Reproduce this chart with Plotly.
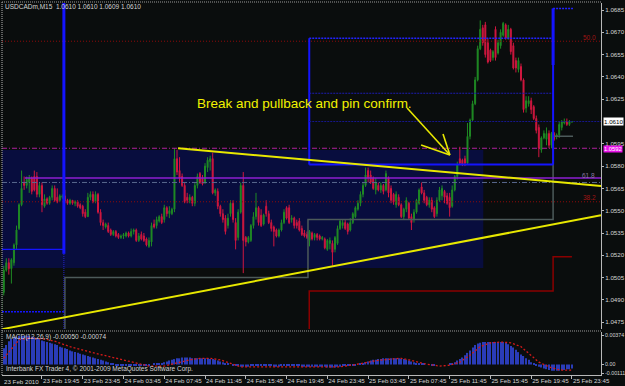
import plotly.graph_objects as go

# ---------------- data (USDCADm, M15; bar 0 = 23 Feb 2010 15:45) ----------------
opens = [1.0483,1.0495,1.0510,1.0515,1.0511,1.0515,1.0527,1.0538,1.0554,1.0569,
         1.0567,1.0569,1.0572,1.0573,1.0573,1.0561,1.0567,1.0553,1.0558,1.0555,
         1.0559,1.0565,1.0559,1.0557,1.0559,1.0560,1.0557,1.0555,1.0557,1.0555,
         1.0556,1.0554,1.0553,1.0549,1.0546,1.0559,1.0561,1.0556,1.0561,1.0549,
         1.0542,1.0539,1.0540,1.0537,1.0534,1.0536,1.0534,1.0532,1.0533,1.0533,
         1.0535,1.0533,1.0536,1.0537,1.0530,1.0534,1.0533,1.0531,1.0526,1.0529,
         1.0541,1.0540,1.0543,1.0546,1.0544,1.0552,1.0548,1.0548,1.0551,1.0585,
         1.0577,1.0573,1.0567,1.0559,1.0557,1.0559,1.0555,1.0567,1.0575,1.0572,
         1.0569,1.0579,1.0583,1.0585,1.0562,1.0563,1.0553,1.0548,1.0545,1.0540,
         1.0548,1.0555,1.0542,1.0532,1.0549,1.0567,1.0532,1.0529,1.0530,1.0540,
         1.0546,1.0552,1.0547,1.0541,1.0553,1.0548,1.0542,1.0539,1.0537,1.0533,
         1.0537,1.0542,1.0552,1.0552,1.0544,1.0545,1.0542,1.0543,1.0538,1.0535,
         1.0534,1.0530,1.0535,1.0532,1.0534,1.0533,1.0531,1.0531,1.0524,1.0528,
         1.0528,1.0524,1.0528,1.0538,1.0540,1.0542,1.0541,1.0537,1.0542,1.0546,
         1.0551,1.0555,1.0561,1.0567,1.0577,1.0574,1.0572,1.0564,1.0567,1.0564,
         1.0567,1.0564,1.0572,1.0565,1.0561,1.0554,1.0559,1.0554,1.0546,1.0551,
         1.0555,1.0546,1.0544,1.0549,1.0555,1.0566,1.0562,1.0559,1.0554,1.0557,
         1.0552,1.0548,1.0557,1.0560,1.0563,1.0560,1.0559,1.0553,1.0564,1.0573,
         1.0585,1.0584,1.0585,1.0582,1.0600,1.0611,1.0622,1.0638,1.0659,1.0673,
         1.0675,1.0663,1.0658,1.0653,1.0672,1.0656,1.0661,1.0668,1.0675,1.0666,
         1.0672,1.0661,1.0651,1.0645,1.0647,1.0638,1.0619,1.0622,1.0624,1.0620,
         1.0612,1.0606,1.0591,1.0599,1.0598,1.0602,1.0594,1.0602,1.0600,1.0601,
         1.0606,1.0609,1.0610,1.0608,1.0610]
highs = [1.0498,1.0513,1.0518,1.0518,1.0518,1.0528,1.0540,1.0555,1.0577,1.0573,
         1.0573,1.0574,1.0573,1.0577,1.0576,1.0569,1.0569,1.0561,1.0559,1.0560,
         1.0567,1.0567,1.0565,1.0561,1.0561,1.0564,1.0558,1.0558,1.0557,1.0557,
         1.0557,1.0555,1.0554,1.0551,1.0562,1.0563,1.0563,1.0563,1.0562,1.0551,
         1.0544,1.0542,1.0542,1.0538,1.0537,1.0537,1.0535,1.0534,1.0535,1.0536,
         1.0536,1.0538,1.0538,1.0538,1.0535,1.0536,1.0535,1.0532,1.0532,1.0542,
         1.0544,1.0546,1.0547,1.0548,1.0554,1.0553,1.0553,1.0552,1.0592,1.0591,
         1.0586,1.0575,1.0569,1.0562,1.0561,1.0560,1.0569,1.0575,1.0576,1.0574,
         1.0582,1.0586,1.0587,1.0589,1.0565,1.0565,1.0554,1.0551,1.0547,1.0548,
         1.0557,1.0557,1.0545,1.0551,1.0569,1.0576,1.0533,1.0533,1.0541,1.0549,
         1.0562,1.0553,1.0551,1.0548,1.0557,1.0550,1.0544,1.0540,1.0538,1.0538,
         1.0544,1.0551,1.0553,1.0554,1.0547,1.0546,1.0544,1.0545,1.0540,1.0537,
         1.0536,1.0537,1.0536,1.0535,1.0535,1.0534,1.0533,1.0532,1.0531,1.0532,
         1.0530,1.0533,1.0540,1.0544,1.0544,1.0544,1.0542,1.0545,1.0549,1.0553,
         1.0557,1.0563,1.0569,1.0579,1.0579,1.0577,1.0573,1.0572,1.0569,1.0569,
         1.0568,1.0577,1.0573,1.0567,1.0562,1.0563,1.0561,1.0555,1.0552,1.0559,
         1.0556,1.0548,1.0551,1.0558,1.0565,1.0569,1.0564,1.0560,1.0559,1.0559,
         1.0553,1.0559,1.0566,1.0567,1.0564,1.0562,1.0562,1.0567,1.0574,1.0583,
         1.0593,1.0585,1.0587,1.0609,1.0612,1.0624,1.0640,1.0661,1.0678,1.0675,
         1.0677,1.0666,1.0659,1.0658,1.0674,1.0665,1.0672,1.0677,1.0676,1.0675,
         1.0673,1.0663,1.0653,1.0653,1.0649,1.0639,1.0627,1.0627,1.0626,1.0621,
         1.0614,1.0608,1.0600,1.0604,1.0606,1.0604,1.0603,1.0603,1.0602,1.0610,
         1.0611,1.0612,1.0612,1.0611,1.0610]
lows = [1.0481,1.0493,1.0509,1.0507,1.0501,1.0513,1.0524,1.0537,1.0553,1.0564,
        1.0565,1.0562,1.0561,1.0563,1.0559,1.0559,1.0549,1.0552,1.0554,1.0554,
        1.0557,1.0556,1.0555,1.0556,1.0558,1.0555,1.0554,1.0554,1.0554,1.0553,
        1.0552,1.0551,1.0546,1.0545,1.0546,1.0557,1.0555,1.0555,1.0548,1.0540,
        1.0537,1.0538,1.0535,1.0533,1.0533,1.0532,1.0531,1.0531,1.0531,1.0532,
        1.0532,1.0532,1.0534,1.0529,1.0529,1.0530,1.0529,1.0526,1.0525,1.0526,
        1.0538,1.0538,1.0542,1.0541,1.0542,1.0546,1.0545,1.0547,1.0549,1.0574,
        1.0569,1.0566,1.0555,1.0555,1.0555,1.0553,1.0553,1.0565,1.0568,1.0567,
        1.0568,1.0576,1.0577,1.0561,1.0560,1.0551,1.0546,1.0542,1.0534,1.0538,
        1.0546,1.0542,1.0524,1.0530,1.0548,1.0508,1.0526,1.0528,1.0529,1.0538,
        1.0544,1.0540,1.0539,1.0540,1.0546,1.0541,1.0536,1.0526,1.0532,1.0532,
        1.0536,1.0541,1.0544,1.0541,1.0542,1.0538,1.0538,1.0536,1.0533,1.0532,
        1.0531,1.0526,1.0530,1.0530,1.0530,1.0530,1.0530,1.0524,1.0523,1.0524,
        1.0513,1.0522,1.0527,1.0537,1.0538,1.0537,1.0534,1.0536,1.0541,1.0545,
        1.0550,1.0553,1.0559,1.0566,1.0569,1.0568,1.0564,1.0561,1.0563,1.0562,
        1.0561,1.0563,1.0559,1.0555,1.0554,1.0552,1.0553,1.0545,1.0544,1.0549,
        1.0544,1.0537,1.0542,1.0548,1.0554,1.0561,1.0555,1.0553,1.0552,1.0549,
        1.0545,1.0546,1.0556,1.0557,1.0555,1.0554,1.0546,1.0552,1.0563,1.0571,
        1.0581,1.0580,1.0580,1.0581,1.0598,1.0610,1.0621,1.0637,1.0658,1.0661,
        1.0653,1.0649,1.0650,1.0651,1.0651,1.0655,1.0659,1.0667,1.0665,1.0665,
        1.0655,1.0645,1.0643,1.0643,1.0637,1.0616,1.0616,1.0620,1.0615,1.0611,
        1.0602,1.0586,1.0589,1.0598,1.0594,1.0592,1.0592,1.0597,1.0598,1.0599,
        1.0604,1.0608,1.0607,1.0607,1.0609]
closes = [1.0495,1.0510,1.0515,1.0511,1.0517,1.0527,1.0537,1.0554,1.0565,1.0567,
          1.0571,1.0572,1.0563,1.0564,1.0561,1.0567,1.0554,1.0558,1.0555,1.0559,
          1.0565,1.0557,1.0556,1.0560,1.0560,1.0556,1.0555,1.0557,1.0555,1.0556,
          1.0553,1.0552,1.0548,1.0546,1.0559,1.0561,1.0556,1.0561,1.0549,1.0542,
          1.0540,1.0541,1.0536,1.0534,1.0536,1.0533,1.0532,1.0533,1.0534,1.0535,
          1.0533,1.0536,1.0537,1.0530,1.0533,1.0531,1.0530,1.0527,1.0530,1.0540,
          1.0539,1.0544,1.0546,1.0542,1.0552,1.0548,1.0550,1.0551,1.0585,1.0576,
          1.0572,1.0567,1.0556,1.0557,1.0559,1.0555,1.0567,1.0573,1.0569,1.0568,
          1.0580,1.0584,1.0585,1.0562,1.0564,1.0553,1.0548,1.0544,1.0536,1.0545,
          1.0555,1.0544,1.0530,1.0549,1.0567,1.0530,1.0529,1.0532,1.0540,1.0546,
          1.0552,1.0542,1.0540,1.0547,1.0548,1.0542,1.0538,1.0536,1.0533,1.0537,
          1.0542,1.0549,1.0545,1.0542,1.0545,1.0540,1.0540,1.0537,1.0534,1.0533,
          1.0532,1.0536,1.0531,1.0534,1.0532,1.0531,1.0532,1.0525,1.0530,1.0530,
          1.0522,1.0532,1.0538,1.0543,1.0542,1.0538,1.0536,1.0542,1.0548,1.0552,
          1.0555,1.0561,1.0567,1.0574,1.0572,1.0569,1.0565,1.0569,1.0564,1.0567,
          1.0563,1.0575,1.0562,1.0557,1.0556,1.0561,1.0554,1.0546,1.0551,1.0557,
          1.0545,1.0542,1.0549,1.0557,1.0564,1.0562,1.0557,1.0554,1.0557,1.0551,
          1.0546,1.0557,1.0564,1.0565,1.0559,1.0555,1.0552,1.0564,1.0573,1.0581,
          1.0582,1.0581,1.0582,1.0600,1.0611,1.0622,1.0638,1.0659,1.0672,1.0663,
          1.0655,1.0650,1.0651,1.0657,1.0653,1.0663,1.0670,1.0676,1.0666,1.0672,
          1.0657,1.0646,1.0646,1.0651,1.0638,1.0618,1.0624,1.0624,1.0618,1.0612,
          1.0604,1.0592,1.0599,1.0602,1.0602,1.0594,1.0602,1.0598,1.0601,1.0608,
          1.0610,1.0610,1.0608,1.0610,1.0610]

macd_hist = [0.0016,0.0021,0.0025,0.0030,0.0033,0.0035,0.0036,0.0037,0.0037,0.0037,
             0.0037,0.0037,0.0036,0.0035,0.0034,0.0033,0.0031,0.0030,0.0029,0.0028,
             0.0027,0.0026,0.0025,0.0023,0.0022,0.0021,0.0020,0.0018,0.0017,0.0016,
             0.0015,0.0014,0.0013,0.0012,0.0011,0.0010,0.0009,0.0008,0.0007,0.0006,
             0.0005,0.0004,0.0003,0.0002,0.0001,
             -0.0001,-0.0001,-0.0002,-0.0002,-0.0002,-0.0002,-0.0001,-0.0001,-0.0001,-0.0002,
             -0.0002,-0.0002,-0.0002,-0.0001,0.0000,0.0001,0.0001,0.0002,
             0.0002,0.0003,0.0004,0.0005,0.0006,0.0007,0.0008,0.0008,0.0009,0.0009,
             0.0009,0.0009,0.0008,0.0008,0.0008,0.0008,0.0008,0.0008,0.0008,0.0007,
             0.0007,0.0006,0.0005,0.0004,0.0003,0.0002,0.0001,0.0000,
             -0.0001,-0.0002,-0.0002,-0.0003,-0.0003,-0.0003,-0.0003,-0.0002,-0.0002,-0.0002,
             -0.0001,-0.0001,-0.0001,-0.0002,-0.0002,-0.0002,-0.0003,-0.0003,-0.0003,-0.0002,
             -0.0002,-0.0001,-0.0001,-0.0001,-0.0002,-0.0002,-0.0002,-0.0003,-0.0003,-0.0003,
             -0.0003,-0.0003,-0.0003,-0.0003,-0.0003,-0.0003,-0.0003,-0.0004,-0.0004,-0.0004,
             -0.0004,-0.0003,-0.0003,-0.0002,-0.0002,-0.0002,-0.0002,-0.0001,-0.0001,
             0.0000,0.0001,0.0002,0.0003,0.0004,0.0005,0.0006,0.0006,0.0007,0.0007,
             0.0008,0.0008,0.0008,0.0008,0.0008,0.0008,0.0008,0.0007,0.0007,0.0006,
             0.0005,0.0004,0.0003,0.0002,0.0002,0.0001,0.0001,
             0.0000,0.0000,-0.0001,-0.0001,0.0000,0.0000,0.0000,0.0000,0.0000,0.0001,
             0.0002,0.0003,0.0005,0.0007,0.0009,0.0012,0.0015,0.0018,0.0022,0.0025,
             0.0027,0.0028,0.0029,0.0029,0.0029,0.0029,0.0029,0.0029,0.0029,0.0029,
             0.0029,0.0028,0.0026,0.0024,0.0022,0.0019,0.0016,0.0013,0.0011,0.0008,
             0.0006,0.0003,0.0001,
             -0.0001,-0.0003,-0.0004,-0.0005,-0.0006,-0.0007,-0.0008,-0.0008,-0.0008,-0.0008,
             -0.0007,-0.0007,-0.0006,-0.0006,-0.0005]
signal_bar = [1, 4, 7, 11, 17, 21, 27, 35, 43, 51, 58, 64, 70, 74, 78, 82, 86, 90, 94, 117,
              133, 141, 147, 153, 157, 160, 166, 172, 176, 180, 184, 188, 192, 196, 200, 204,
              208, 211, 215, 219, 224]
signal_val = [0.0008, 0.0020, 0.0032, 0.0034, 0.0033, 0.0030, 0.0023, 0.0016, 0.0010, 0.0003,
              -0.0002, -0.0002, 0.0003, 0.0006, 0.0008, 0.0008, 0.0006, 0.0001, -0.0003, -0.0003,
              -0.0003, 0.0001, 0.0005, 0.0007, 0.0008, 0.0006, 0.0001, -0.0002, -0.0001, 0.0003,
              0.0012, 0.0023, 0.0028, 0.0029, 0.0028, 0.0023, 0.0012, 0.0003, -0.0003, -0.0007,
              -0.00074]

price_ticks = [1.0475, 1.0490, 1.0505, 1.0520, 1.0535, 1.0550, 1.0565, 1.0580, 1.0595,
               1.0625, 1.0640, 1.0655, 1.0670, 1.0685]
time_tick_bars = [16, 32, 48, 64, 80, 96, 112, 128, 144, 160, 176, 192, 208, 224]
time_tick_labels = ["23 Feb 19:45", "23 Feb 23:45", "24 Feb 03:45", "24 Feb 07:45",
                    "24 Feb 11:45", "24 Feb 15:45", "24 Feb 19:45", "24 Feb 23:45",
                    "25 Feb 03:45", "25 Feb 07:45", "25 Feb 11:45", "25 Feb 15:45",
                    "25 Feb 19:45", "25 Feb 23:45"]
first_label = "23 Feb 2010"
macd_ticks = [0.00374, 0.0, -0.00111]
macd_tick_labels = ["0.00374", "0.00", "-0.00111"]

# chart objects (bar positions / prices)
bid = 1.0610
level_magenta = 1.0592
fib_50 = 1.0664
fib_618 = 1.0572
fib_382 = 1.0556
level_slate = 1.0569
navy_box_x = [0.3, 189.2]
navy_box_y = [1.05115, 1.05908]
day_edges = [24.6, 120.9, 216.6]
dayA_levels = [1.0524, 1.0482]
dayA_bar_low = 1.0521
dayC_levels = [1.0666, 1.0629, 1.0610, 1.0581]
dayD_high = 1.0686
dayD_end = 224.4
purple_start = 9.3
gray_step_x = [25.0, 25.0, 120.4, 120.4, 216.6, 216.6, 224.4]
gray_step_y = [1.0440, 1.0505, 1.0505, 1.0544, 1.0544, 1.0600, 1.0600]
red_step_x = [120.9, 120.9, 216.6, 216.6, 224.0]
red_step_y = [1.0440, 1.0496, 1.0496, 1.0519, 1.0519]
trend_upper_x = [69.4, 235.4]
trend_upper_y = [1.0592, 1.05667]
trend_lower_x = [0.3, 235.4]
trend_lower_y = [1.04703, 1.05469]
arrow_tip = (176.1, 1.05875)
arrow_tails = [(159.3, 1.06191), (173.4, 1.06016), (164.8, 1.05942)]
note_text = "Break and pullback and pin confirm."
note_pos = (119.2, 1.06224)

# ---------------- styling ----------------
BG = "#0a0d0d"
BULL = "#1f8a24"
BEAR = "#d0173f"
AXC = "#b8b8b8"
TXT = "#d4d4d4"
FONT = "Liberation Sans Narrow, Liberation Sans, Arial, sans-serif"
BLUE = "#1414ff"
YEL = "#e8e800"
DRED = "#8e0b0b"

X_RANGE = [0.314, 235.4]
Y_RANGE = [1.047043, 1.068971]
M_RANGE = [-0.0013545, 0.0041925]

bars = list(range(len(closes)))

fig = go.Figure()

fig.add_trace(go.Candlestick(
    x=bars, open=opens, high=highs, low=lows, close=closes,
    increasing=dict(line=dict(color=BULL, width=1), fillcolor=BULL),
    decreasing=dict(line=dict(color=BEAR, width=1), fillcolor=BEAR),
    whiskerwidth=0, showlegend=False, hoverinfo="skip", xaxis="x", yaxis="y"))

fig.add_trace(go.Scatter(x=gray_step_x, y=gray_step_y, mode="lines",
                         line=dict(color="#4c5a5a", width=1.5), yaxis="y", hoverinfo="skip"))
fig.add_trace(go.Scatter(x=red_step_x, y=red_step_y, mode="lines",
                         line=dict(color="#8a0000", width=1.5), yaxis="y", hoverinfo="skip"))

fig.add_trace(go.Bar(x=bars, y=macd_hist, width=0.45, marker=dict(color="#2a3cb8", line=dict(width=0)),
                     xaxis="x", yaxis="y2", hoverinfo="skip"))
fig.add_trace(go.Scatter(x=signal_bar, y=signal_val, mode="lines",
                         line=dict(color="#d41a1a", width=1.3, dash="2px,2px"),
                         xaxis="x", yaxis="y2", hoverinfo="skip"))

shapes = []


def seg(x0, x1, y0, y1, color, width, dash="solid", xref="x", yref="y", layer="above"):
    shapes.append(dict(type="line", x0=x0, x1=x1, y0=y0, y1=y1, xref=xref, yref=yref,
                       line=dict(color=color, width=width, dash=dash), layer=layer))


# navy rectangle
shapes.append(dict(type="rect", x0=navy_box_x[0], x1=navy_box_x[1], y0=navy_box_y[0], y1=navy_box_y[1],
                   xref="x", yref="y", fillcolor="#080d3e", line=dict(width=0), layer="below"))

# full-width levels
seg(0, 1, fib_50, fib_50, DRED, 1, "1px,2px", xref="paper")
seg(0, 1, level_magenta, level_magenta, "#b0209e", 1, "5px,2px,1px,2px", xref="paper")
seg(0, 1, level_slate, level_slate, "#5a6a90", 1, "5px,2px,1px,2px", xref="paper")
seg(0, 1, fib_382, fib_382, DRED, 1, "1px,2px", xref="paper")
seg(purple_start, X_RANGE[1], fib_618, fib_618, "#8c1ed2", 1.5)

# day A levels
seg(X_RANGE[0], day_edges[0], dayA_levels[0], dayA_levels[0], BLUE, 1.3)
seg(X_RANGE[0], day_edges[0], dayA_levels[1], dayA_levels[1], BLUE, 1.5, "2px,1px")
seg(day_edges[0], day_edges[0], dayA_bar_low, Y_RANGE[1], BLUE, 3)
seg(day_edges[0], day_edges[0], Y_RANGE[0], dayA_bar_low, "#2424c8", 1, "1px,1px")

# day C levels
seg(day_edges[1], day_edges[1], dayC_levels[3], dayC_levels[0], BLUE, 2)
seg(day_edges[1], day_edges[2], dayC_levels[0], dayC_levels[0], "#2222ff", 1.5, "2px,1px")
seg(day_edges[1], day_edges[2], dayC_levels[1], dayC_levels[1], "#1c1cb0", 1, "2px,1px")
seg(day_edges[1], X_RANGE[1], dayC_levels[2], dayC_levels[2], "#16168a", 1, "2px,1px")
seg(day_edges[1], day_edges[2], dayC_levels[3], dayC_levels[3], BLUE, 2)

# day D
seg(day_edges[2], day_edges[2], dayC_levels[3], dayD_high, BLUE, 2)
seg(day_edges[2], day_edges[2], 1.0648, dayD_high, BLUE, 3)
seg(day_edges[2], dayD_end, dayD_high, dayD_high, "#2020ff", 1.5, "2px,1px")

# trendlines
seg(trend_upper_x[0], trend_upper_x[1], trend_upper_y[0], trend_upper_y[1], YEL, 2)
seg(trend_lower_x[0], trend_lower_x[1], trend_lower_y[0], trend_lower_y[1], YEL, 2)

# arrow
for tx, ty in arrow_tails:
    seg(tx, arrow_tip[0], ty, arrow_tip[1], YEL, 1.6)

# frame
FR = "#9a9a9a"
seg(0, 1, 1.0027, 1.0027, FR, 1, "1px,1px", xref="paper", yref="paper")
seg(0, 0, 0, 1.0027, FR, 1.2, "1px,1px", xref="paper", yref="paper")
seg(0, 1, 0.1183, 0.1183, FR, 1, "1px,1px", xref="paper", yref="paper")

SMALL = 6.2
annotations = [
    dict(text="USDCADm,M15  1.0610 1.0610 1.0609 1.0610", xref="paper", yref="paper",
         x=0.002, y=0.991, xanchor="left", yanchor="middle", showarrow=False,
         font=dict(family=FONT, size=6.5, color=TXT)),
    dict(text="MACD(12,26,9) -0.00050 -0.00074", xref="paper", yref="paper",
         x=0.003, y=0.1022, xanchor="left", yanchor="middle", showarrow=False,
         font=dict(family=FONT, size=6.5, color=TXT)),
    dict(text="Interbank FX Trader 4, © 2001-2009 MetaQuotes Software Corp.", xref="paper", yref="paper",
         x=0.003, y=0.016, xanchor="left", yanchor="middle", showarrow=False,
         font=dict(family=FONT, size=6.5, color=TXT)),
    dict(text=first_label, xref="paper", yref="paper", x=0.0, y=-0.0175, xanchor="left", yanchor="middle",
         showarrow=False, font=dict(family=FONT, size=SMALL, color=TXT)),
    dict(text=note_text, xref="x", yref="y", x=note_pos[0], y=note_pos[1], xanchor="center", yanchor="middle",
         showarrow=False, font=dict(family="Liberation Sans, Arial, sans-serif", size=13.5, color="#f2f200")),
    dict(text="50.0", xref="paper", yref="y", x=0.995, y=fib_50 + 0.00025, xanchor="right", yanchor="middle",
         showarrow=False, font=dict(family=FONT, size=6.5, color="#a01414")),
    dict(text="61.8", xref="paper", yref="y", x=0.993, y=fib_618 + 0.0002, xanchor="right", yanchor="middle",
         showarrow=False, font=dict(family=FONT, size=6.5, color="#8a7aa0")),
    dict(text="38.2", xref="paper", yref="y", x=0.995, y=fib_382 + 0.0003, xanchor="right", yanchor="middle",
         showarrow=False, font=dict(family=FONT, size=6.5, color="#a01414")),
    dict(text=f"{bid:.4f}", xref="paper", yref="y", x=1.0035, y=bid, xanchor="left", yanchor="middle",
         showarrow=False, bgcolor="#ffffff", borderpad=0, font=dict(family=FONT, size=SMALL, color="#000000")),
    dict(text=f"{level_magenta:.4f}", xref="paper", yref="y", x=1.0035, y=level_magenta - 0.00005, xanchor="left",
         yanchor="middle", showarrow=False, bgcolor="#e812e8", borderpad=0,
         font=dict(family=FONT, size=5.8, color="#ffffff")),
]

fig.update_layout(
    width=625, height=386, margin=dict(l=2, r=24, t=3, b=11),
    paper_bgcolor=BG, plot_bgcolor=BG, showlegend=False, hovermode=False,
    boxgap=0.45,
    shapes=shapes, annotations=annotations,
    xaxis=dict(range=X_RANGE, anchor="y2", tickmode="array", tickvals=time_tick_bars, ticktext=time_tick_labels,
               ticklabelposition="outside right", tickangle=0, ticks="outside", ticklen=3, tickcolor=AXC,
               tickfont=dict(family=FONT, size=SMALL, color=TXT), showgrid=False, zeroline=False,
               showline=True, linecolor=AXC, linewidth=1, rangeslider=dict(visible=False),
               automargin=False, fixedrange=True),
    yaxis=dict(domain=[0.12366, 1.0], range=Y_RANGE, side="right", anchor="x", tickmode="array",
               tickvals=price_ticks, tickformat=".4f", ticks="outside", ticklen=2, tickcolor=AXC,
               tickfont=dict(family=FONT, size=SMALL, color=TXT), showgrid=False, zeroline=False,
               showline=True, linecolor=AXC, linewidth=1, automargin=False, fixedrange=True),
    yaxis2=dict(domain=[0.0, 0.11559], range=M_RANGE, side="right", anchor="x", tickmode="array",
                tickvals=macd_ticks, ticktext=macd_tick_labels, ticks="outside", ticklen=2, tickcolor=AXC,
                tickfont=dict(family=FONT, size=5.3, color=TXT), showgrid=False, zeroline=False,
                showline=True, linecolor=AXC, linewidth=1, automargin=False, fixedrange=True),
)

fig.write_html("out.html")
